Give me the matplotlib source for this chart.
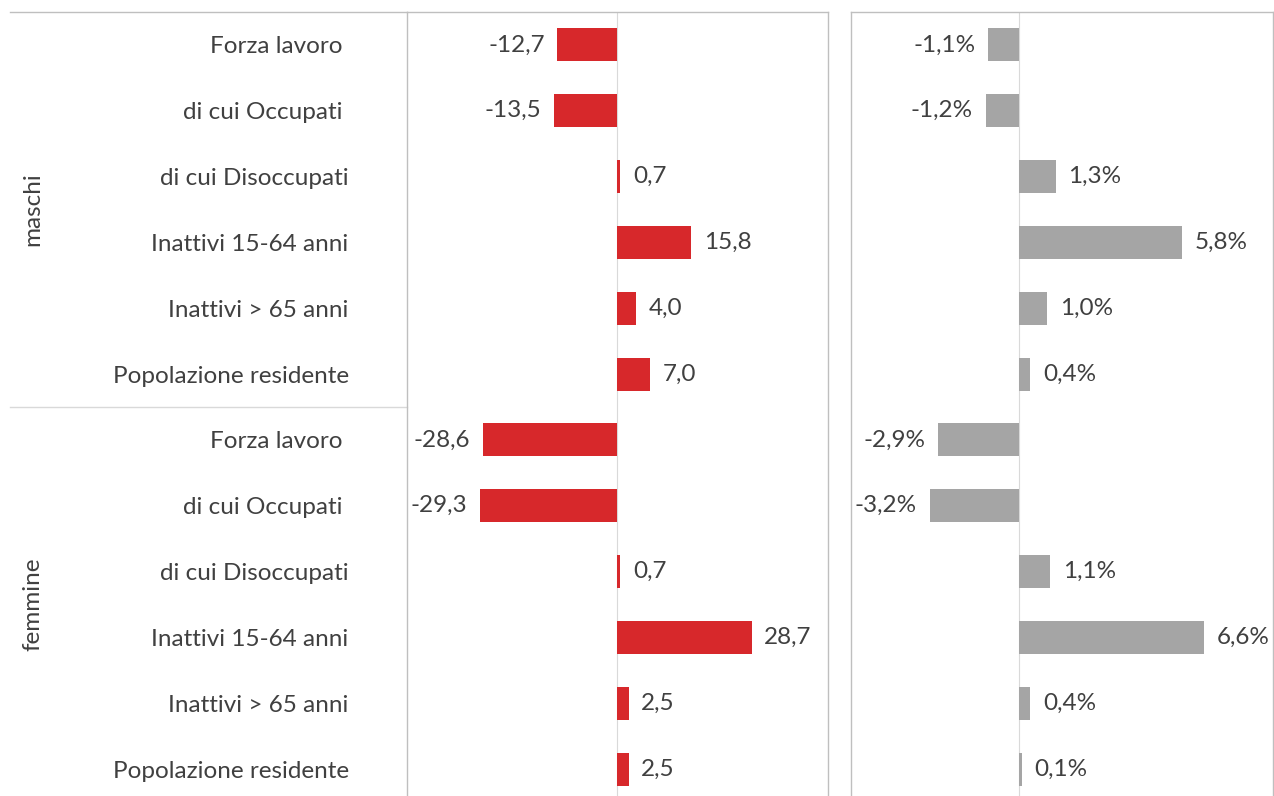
import numpy as np
import matplotlib
matplotlib.use("Agg")
import matplotlib.pyplot as plt

plt.rcParams['font.family'] = ['Lato', 'DejaVu Sans']

# %% data
categorie = ['Forza lavoro ', 'di cui Occupati ', 'di cui Disoccupati',
             'Inattivi 15-64 anni', 'Inattivi > 65 anni', 'Popolazione residente']
gruppi = ['maschi', 'femmine']

var_maschi = [-12.7, -13.5, 0.7, 15.8, 4.0, 7.0]
var_femmine = [-28.6, -29.3, 0.7, 28.7, 2.5, 2.5]
pct_maschi = [-1.1, -1.2, 1.3, 5.8, 1.0, 0.4]
pct_femmine = [-2.9, -3.2, 1.1, 6.6, 0.4, 0.1]

rosso = '#D7282B'
grigio = '#A5A5A5'
testo = '#404040'
bordo = '#BFBFBF'
fs = 17.5

labels = categorie + categorie
var_all = var_maschi + var_femmine
pct_all = pct_maschi + pct_femmine
y = np.arange(len(labels))

fig = plt.figure(figsize=(12.74, 7.96), dpi=100)
ax1 = fig.add_axes([407/1274, -6/796, 421/1274, 790/796])
ax2 = fig.add_axes([851/1274, -6/796, 422/1274, 790/796])


def fmt(v, pct=False):
    s = f"{v:.1f}".replace('.', ',')
    return s + '%' if pct else s


def draw(ax, vals, color, xlim, pct):
    ax.barh(y, vals, height=0.5, color=color, zorder=3)
    ax.axvline(0, color='#D9D9D9', lw=0.8, zorder=1)
    ax.set_xlim(*xlim)
    ax.set_ylim(len(labels) - 0.5, -0.5)
    ax.set_xticks([])
    for s in ax.spines.values():
        s.set_color(bordo)
        s.set_linewidth(1.0)
    for yi, v in zip(y, vals):
        off = 9 if v >= 0 else -9
        ax.annotate(fmt(v, pct), (v, yi), xytext=(off, 0), textcoords='offset points',
                    ha='left' if v >= 0 else 'right', va='center',
                    fontsize=fs, color=testo)


draw(ax1, var_all, rosso, (-44.8, 45), False)
draw(ax2, pct_all, grigio, (-6, 9.05), True)

ax1.set_yticks(y)
ax1.set_yticklabels(labels, fontsize=fs, color=testo)
ax1.tick_params(axis='y', length=0, pad=42)
ax2.set_yticks([])

# linee di separazione a sinistra del pannello
tr = ax1.get_yaxis_transform()
ax1.plot([-0.943, 0], [-0.5, -0.5], transform=tr, color=bordo, lw=1.0, clip_on=False)
ax1.plot([-0.943, 0], [5.5, 5.5], transform=tr, color='#D9D9D9', lw=1.0, clip_on=False)

for i, g in enumerate(gruppi):
    ax1.text(-0.888, 2.5 + 6 * i, g, transform=tr, rotation=90, ha='center', va='center',
             fontsize=fs, color=testo)

fig.savefig('out.png', dpi=100)
